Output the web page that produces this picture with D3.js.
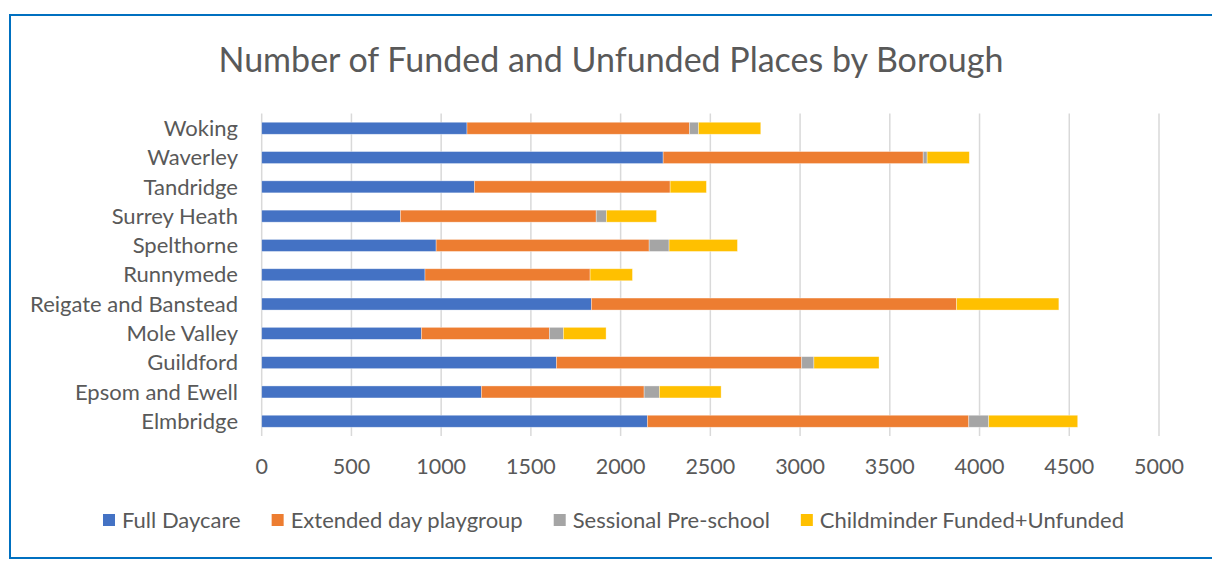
<!DOCTYPE html>
<html>
<head>
<meta charset="utf-8">
<script src="https://cdn.jsdelivr.net/npm/d3@7"></script>
<style>
  html, body { margin: 0; padding: 0; background: #fff; }
  svg { display: block; }
  text { font-family: Lato, "Open Sans", sans-serif; fill: #595959; }
</style>
</head>
<body>
<svg id="chart" width="1212" height="561"></svg>
<script>
// boroughs, top to bottom as drawn
var boroughs = ['Woking', 'Waverley', 'Tandridge', 'Surrey Heath', 'Spelthorne', 'Runnymede',
                'Reigate and Banstead', 'Mole Valley', 'Guildford', 'Epsom and Ewell', 'Elmbridge'];

var fullDaycare = [1144, 2237, 1185, 773, 972, 910, 1837, 890, 1642, 1224, 2149];
var extendedDay = [1240, 1449, 1091, 1091, 1187, 920, 2035, 713, 1367, 907, 1791];
var sessional   = [50, 22, 0, 57, 111, 0, 0, 78, 68, 85, 111];
var childminder = [347, 235, 202, 279, 381, 236, 570, 238, 363, 344, 496];

var seriesNames  = ['Full Daycare', 'Extended day playgroup', 'Sessional Pre-school', 'Childminder Funded+Unfunded'];
var seriesColors = ['#4472C4', '#ED7D31', '#A5A5A5', '#FFC000'];
var xTicks = [0, 500, 1000, 1500, 2000, 2500, 3000, 3500, 4000, 4500, 5000];

var svg = d3.select('#chart');

// outer frame (runs off the right edge in the original)
svg.append('rect')
  .attr('x', 10).attr('y', 15)
  .attr('width', 1230).attr('height', 543)
  .attr('fill', 'none')
  .attr('stroke', '#0070C0')
  .attr('stroke-width', 2);

var x = d3.scaleLinear().domain([0, 5000]).range([261.7, 1159]);
var y = d3.scaleBand().domain(boroughs).range([113.6, 435.9]).paddingInner(0.59).paddingOuter(0.295);

// build table for the stack
var rows = boroughs.map(function(b, i) {
  return { borough: b, s0: fullDaycare[i], s1: extendedDay[i], s2: sessional[i], s3: childminder[i] };
});
var stack = d3.stack().keys(['s0', 's1', 's2', 's3'])(rows);

// gridlines
svg.append('g')
  .selectAll('line')
  .data(xTicks)
  .join('line')
  .attr('x1', function(d) { return x(d); })
  .attr('x2', function(d) { return x(d); })
  .attr('y1', 113.6)
  .attr('y2', 435.9)
  .attr('stroke', '#D9D9D9')
  .attr('stroke-width', 1.5);

// bars
svg.append('g')
  .selectAll('g')
  .data(stack)
  .join('g')
  .attr('fill', function(d, i) { return seriesColors[i]; })
  .selectAll('rect')
  .data(function(d) { return d; })
  .join('rect')
  .attr('x', function(d) { return x(d[0]); })
  .attr('y', function(d) { return y(d.data.borough); })
  .attr('width', function(d) { return Math.max(0, x(d[1]) - x(d[0])); })
  .attr('height', y.bandwidth())
  .attr('stroke', '#fff')
  .attr('stroke-opacity', 0.5)
  .attr('stroke-width', 0.7);

// category labels
svg.append('g')
  .selectAll('text')
  .data(boroughs)
  .join('text')
  .attr('x', 238)
  .attr('y', function(d) { return y(d) + y.bandwidth() / 2; })
  .attr('dy', '0.35em')
  .attr('text-anchor', 'end')
  .style('font-size', '22px')
  .text(function(d) { return d; });

// x tick labels
svg.append('g')
  .selectAll('text')
  .data(xTicks)
  .join('text')
  .attr('x', function(d) { return x(d); })
  .attr('y', 474)
  .attr('text-anchor', 'middle')
  .style('font-size', '21.5px')
  .text(function(d) { return d; });

// title
svg.append('text')
  .attr('x', 611)
  .attr('y', 72)
  .attr('text-anchor', 'middle')
  .style('font-size', '34px')
  .text('Number of Funded and Unfunded Places by Borough');

// legend, laid out from measured text widths and centred
var legend = svg.append('g');
var items = legend.selectAll('g')
  .data(seriesNames)
  .join('g');

items.append('rect')
  .attr('width', 12).attr('height', 12)
  .attr('y', 514)
  .attr('fill', function(d, i) { return seriesColors[i]; });

items.append('text')
  .attr('x', 19)
  .attr('y', 527.5)
  .style('font-size', '22px')
  .text(function(d) { return d; });

var offsets = [], pos = 0;
items.each(function(d, i) {
  offsets.push(pos);
  pos += 19 + this.querySelector('text').getComputedTextLength() + 31;
});
var total = pos - 31;
var start = 613.5 - total / 2;
items.attr('transform', function(d, i) { return 'translate(' + (start + offsets[i]) + ',0)'; });
</script>
</body>
</html>
